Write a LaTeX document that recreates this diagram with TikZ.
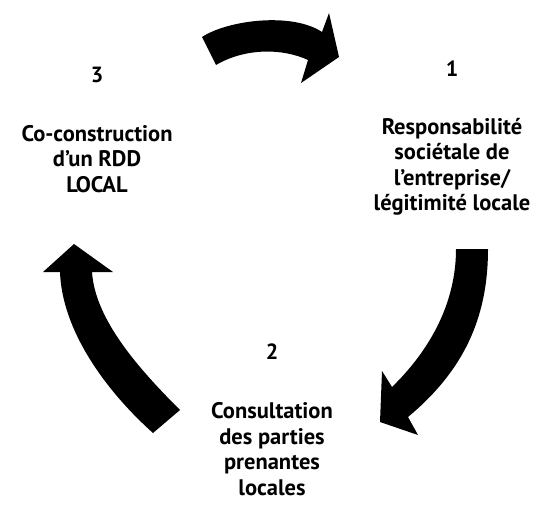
\documentclass[tikz,border=0pt]{standalone}
\usepackage{fontspec}
\setmainfont{PT Sans}
\usepackage{tikz}
\tikzset{num/.style={font=\bfseries\fontsize{22}{25}\selectfont}}
\tikzset{blocktext/.style={align=center, font=\bfseries\fontsize{22.5}{25.5}\selectfont}}
\tikzset{cyclearrow/.style={fill=black}}

\begin{document}
\begin{tikzpicture}[x=1pt, y=-1pt]
    \useasboundingbox (0,0) rectangle (540,505);

    \node[num] (N1) at (452,69) {1};
    \node[num] (N2) at (272,352) {2};
    \node[num] (N3) at (97,75) {3};

    \node[blocktext] (T1) at (452,167) {Responsabilité\\sociétale de\\l’entreprise/\\légitimité locale};
    \node[blocktext] (T2) at (272,449) {Consultation\\des parties\\prenantes\\locales};
    \node[blocktext] (T3) at (97,159) {Co-construction\\d’un RDD\\LOCAL};

    \fill[cyclearrow] (202,37) .. controls (228,20) and (292,12) .. (322,32) -- (329,13) -- (339,57) -- (301,83) -- (308,60) .. controls (282,48) and (245,48) .. (216,65) -- cycle;
    \fill[cyclearrow] (456,249) -- (488,249) .. controls (488,320) and (462,372) .. (408,417) -- (418,435) -- (380,422) -- (382,371) -- (392,387) .. controls (428,352) and (456,305) .. (456,249) -- cycle;
    \fill[cyclearrow] (180,410) .. controls (140,370) and (95,320) .. (92,272) -- (113,272) -- (74,244) -- (43,272) -- (60,272) .. controls (62,330) and (105,390) .. (153,433) -- cycle;
\end{tikzpicture}
\end{document}
